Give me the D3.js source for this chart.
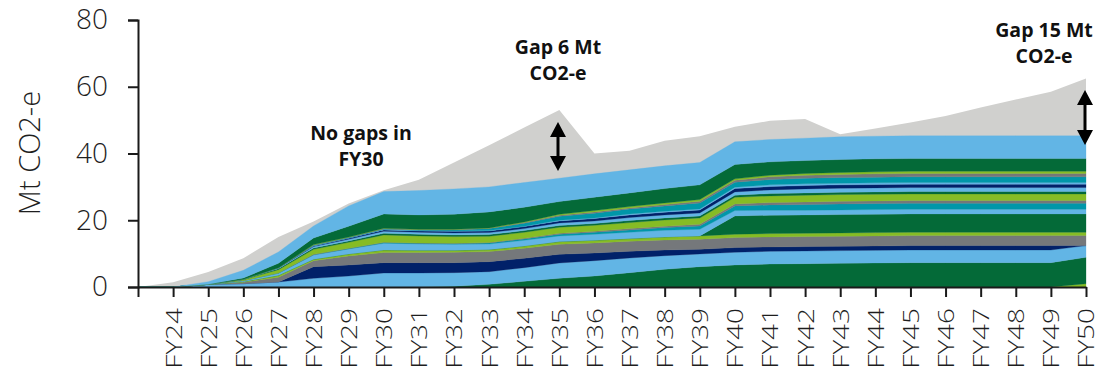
<!DOCTYPE html>
<html>
<head>
<meta charset="utf-8">
<script src="https://cdn.jsdelivr.net/npm/d3@7"></script>
<style>
  html, body { margin: 0; padding: 0; background: #fff; }
  svg { display: block; }
</style>
</head>
<body>
<svg id="chart" width="1119" height="374"></svg>
<script>
// ---------- DATA ----------
const categories = ["", "FY24", "FY25", "FY26", "FY27", "FY28", "FY29", "FY30", "FY31", "FY32", "FY33", "FY34", "FY35", "FY36", "FY37", "FY38", "FY39", "FY40", "FY41", "FY42", "FY43", "FY44", "FY45", "FY46", "FY47", "FY48", "FY49", "FY50"];
const yTicks = [0, 20, 40, 60, 80];

// Total requirement (grey area behind)
const demand = [0, 1.4, 4.5, 8.6, 15.0, 19.6, 25.0, 29.0, 32.1, 37.3, 42.5, 47.8, 53.0, 40.0, 40.8, 43.8, 45.2, 48.0, 49.8, 50.3, 45.8, 47.5, 49.3, 51.2, 53.8, 56.2, 58.5, 62.5];

// Stacked supply series, bottom to top
const lgBase = [0,0,0,0,0,0,0,0,0,0,0,0,0,0,0,0,0,0,0,0,0,0,0,0,0,0,0,1.0];
const dg1 = [0,0,0,0,0,0,0,0,0,0.2,0.8,1.7,2.6,3.3,4.3,5.3,6.1,6.6,6.9,7.0,7.1,7.2,7.3,7.3,7.3,7.3,7.3,7.9];
const lb1 = [0,0,0.8,1.0,1.5,2.6,3.3,4.2,4.2,4.1,3.8,4.1,4.6,4.6,4.4,4.1,3.8,3.8,3.8,3.8,3.8,3.8,3.8,3.8,3.8,3.8,3.8,3.5];
const nv1 = [0,0,0,0,0,3.5,3.3,3.1,3.1,3.0,3.0,2.8,2.6,2.3,2.0,1.7,1.4,1.4,1.3,1.3,1.3,1.3,1.3,1.3,1.3,1.3,1.3,0];
const gy1 = [0,0,0,0.4,1.4,1.8,2.7,3.0,3.0,3.1,3.0,3.0,3.0,3.0,3.0,3.0,3.0,3.0,3.0,3.0,3.0,3.0,3.0,3.0,3.0,3.0,3.0,3.0];
const lg1 = [0,0,0,0.2,0.6,0.4,0.6,0.8,0.7,0.6,0.6,0.7,0.8,0.8,0.8,0.9,1.0,1.0,1.0,1.0,1.0,1.0,1.0,1.0,1.0,1.0,1.0,1.0];
const dg2 = [0,0,0,0,0,0,0,0,0,0,0,0,0,0,0,0,0,5.5,5.5,5.5,5.5,5.5,5.5,5.5,5.5,5.5,5.5,5.5];
const lb2 = [0,0,0,0.3,0.6,1.3,1.5,2.0,1.9,1.8,1.7,1.7,1.7,1.8,1.9,2.0,2.0,1.6,1.5,1.4,1.4,1.4,1.4,1.4,1.4,1.4,1.4,1.4];
const tl1 = [0,0,0,0,0.1,0.1,0.1,0.2,0.2,0.2,0.3,0.4,0.5,0.6,0.7,0.8,1.0,1.4,1.6,1.7,1.8,1.8,1.8,1.8,1.8,1.8,1.8,1.8];
const gy2 = [0,0,0,0,0,0.1,0.1,0.1,0.1,0.1,0.1,0.2,0.3,0.3,0.4,0.4,0.5,0.6,0.7,0.8,0.8,0.8,0.8,0.8,0.8,0.8,0.8,0.8];
const lg2 = [0,0,0,0.3,1.0,1.5,1.8,2.2,2.1,2.0,1.9,1.8,1.8,1.8,1.8,1.9,1.9,2.0,2.0,2.0,2.0,2.0,2.0,2.0,2.0,2.0,2.0,2.0];
const dg3 = [0,0,0,0.1,0.3,0.4,0.4,0.5,0.5,0.5,0.5,0.5,0.5,0.5,0.6,0.6,0.6,0.6,0.7,0.7,0.7,0.7,0.7,0.7,0.7,0.7,0.7,0.7];
const lb3 = [0,0,0,0,0.2,0.4,0.5,0.6,0.6,0.6,0.6,0.6,0.8,0.8,0.9,0.9,0.9,1.0,1.1,1.2,1.2,1.2,1.2,1.2,1.2,1.2,1.2,1.2];
const nv2 = [0,0,0,0,0.1,0.2,0.3,0.4,0.4,0.5,0.5,0.6,0.6,0.7,0.8,0.8,0.9,1.0,1.0,1.0,1.0,1.0,1.0,1.0,1.0,1.0,1.0,1.0];
const lb4 = [0,0,0,0,0,0.1,0.1,0.1,0.1,0.1,0.1,0.1,0.2,0.2,0.3,0.3,0.3,0.4,0.5,0.5,0.5,0.5,0.5,0.5,0.5,0.5,0.5,0.5];
const tl2 = [0,0,0,0,0,0.1,0.1,0.2,0.2,0.3,0.6,0.9,1.2,1.4,1.5,1.6,1.8,1.5,1.6,1.7,1.7,1.7,1.7,1.7,1.7,1.7,1.7,1.7];
const gy3 = [0,0,0,0,0,0.1,0.1,0.1,0.1,0.1,0.1,0.2,0.3,0.4,0.3,0.4,0.5,0.6,0.8,0.9,0.9,1.0,1.0,1.0,1.0,1.0,1.0,1.0];
const lg3 = [0,0,0,0,0,0.1,0.1,0.1,0.1,0.1,0.1,0.2,0.3,0.4,0.4,0.5,0.5,0.4,0.5,0.5,0.6,0.6,0.7,0.7,0.7,0.7,0.7,0.7];
const dg4 = [0,0,0,0.4,1.3,2.0,3.2,4.3,4.3,4.5,4.8,4.4,3.8,4.0,4.1,4.3,4.4,4.3,4.0,3.9,3.9,3.9,3.8,3.8,3.8,3.8,3.8,3.8];
const lb5 = [0,0,0.8,2.3,3.4,3.6,6.1,6.7,7.3,7.6,7.5,7.4,7.0,7.0,6.9,6.8,6.7,6.8,6.7,6.7,6.8,6.8,6.8,6.8,6.8,6.8,6.8,6.8];

// ---------- STYLE ----------
const C = { dg: "#046A38", lb: "#62B5E5", nv: "#012169", gy: "#75787B", lg: "#86BC25", tl: "#0097A9", demand: "#D0D0CE" };
const seriesDefs = [
  ["lgBase", lgBase, C.lg], ["dg1", dg1, C.dg], ["lb1", lb1, C.lb], ["nv1", nv1, C.nv],
  ["gy1", gy1, C.gy], ["lg1", lg1, C.lg], ["dg2", dg2, C.dg], ["lb2", lb2, C.lb],
  ["tl1", tl1, C.tl], ["gy2", gy2, C.gy], ["lg2", lg2, C.lg], ["dg3", dg3, C.dg],
  ["lb3", lb3, C.lb], ["nv2", nv2, C.nv], ["lb4", lb4, C.lb], ["tl2", tl2, C.tl],
  ["gy3", gy3, C.gy], ["lg3", lg3, C.lg], ["dg4", dg4, C.dg], ["lb5", lb5, C.lb]
];
const colorOf = Object.fromEntries(seriesDefs.map(d => [d[0], d[2]]));

const table = categories.map((cat, i) => {
  const row = { cat, demand: demand[i] };
  seriesDefs.forEach(([k, arr]) => row[k] = arr[i]);
  return row;
});

const svg = d3.select("#chart");
const x = d3.scalePoint().domain(categories).range([138, 1086]);
const y = d3.scaleLinear().domain([0, 80]).range([287, 20]);

const FONT = "'Open Sans', 'Segoe UI', sans-serif";
const TXT = "#1e1e1e";

// demand (grey) area
svg.append("path")
  .datum(table)
  .attr("fill", C.demand)
  .attr("d", d3.area().x(d => x(d.cat)).y0(y(0)).y1(d => y(d.demand)));

// stacked supply areas
const stack = d3.stack().keys(seriesDefs.map(d => d[0]));
const layers = stack(table);
const area = d3.area().x(d => x(d.data.cat)).y0(d => y(d[0])).y1(d => y(d[1]));
svg.append("g").selectAll("path").data(layers).join("path")
  .attr("fill", d => colorOf[d.key])
  .attr("stroke", d => colorOf[d.key])
  .attr("stroke-width", 0.3)
  .attr("d", area);

// Y axis
const yAxis = svg.append("g").attr("transform", "translate(138,0)")
  .call(d3.axisLeft(y).tickValues(yTicks).tickSize(10).tickPadding(20));
yAxis.select(".domain").attr("stroke", "#1a1a1a").attr("stroke-width", 2);
yAxis.selectAll(".tick line").attr("stroke", "#1a1a1a").attr("stroke-width", 2);
yAxis.selectAll(".tick text").attr("font-family", FONT).attr("font-weight", 300)
  .attr("font-size", 28).attr("fill", TXT);

// X axis
const xAxis = svg.append("g").attr("transform", "translate(0,287)")
  .call(d3.axisBottom(x).tickSize(10).tickSizeOuter(0));
xAxis.select(".domain").attr("stroke", "#1a1a1a").attr("stroke-width", 2);
xAxis.selectAll(".tick line").attr("stroke", "#1a1a1a").attr("stroke-width", 2);
xAxis.selectAll(".tick text")
  .attr("font-family", FONT).attr("font-weight", 300).attr("font-size", 22).attr("fill", TXT)
  .attr("text-anchor", "end")
  .attr("transform", "translate(0,21) rotate(-90) scale(1.27,1)")
  .attr("x", 0).attr("y", 0).attr("dy", "0.36em");

// Y title
svg.append("text")
  .attr("transform", "translate(30,153) rotate(-90)")
  .attr("text-anchor", "middle").attr("dy", "0.36em")
  .attr("font-family", FONT).attr("font-weight", 300).attr("font-size", 29).attr("fill", TXT)
  .text("Mt CO2-e");

// Annotations
function label(lines, cx, cys) {
  lines.forEach((t, i) => {
    svg.append("text").attr("x", cx).attr("y", cys[i]).attr("dy", "0.36em")
      .attr("text-anchor", "middle").attr("font-family", FONT).attr("font-weight", 700)
      .attr("font-size", 19.5).attr("fill", "#111").text(t);
  });
}
label(["No gaps in", "FY30"], 361, [133, 159]);
label(["Gap 6 Mt", "CO2-e"], 558, [47, 73]);
label(["Gap 15 Mt", "CO2-e"], 1044, [30, 56]);

function dblArrow(cx, y1, y2) {
  const g = svg.append("g");
  const hw = 8, hh = 15;
  g.append("line").attr("x1", cx).attr("x2", cx).attr("y1", y1 + hh - 2).attr("y2", y2 - hh + 2)
    .attr("stroke", "#000").attr("stroke-width", 3);
  g.append("path").attr("d", `M${cx},${y1} L${cx - hw},${y1 + hh} L${cx + hw},${y1 + hh} Z`).attr("fill", "#000");
  g.append("path").attr("d", `M${cx},${y2} L${cx - hw},${y2 - hh} L${cx + hw},${y2 - hh} Z`).attr("fill", "#000");
}
dblArrow(558, 122, 171);
dblArrow(1085, 90, 145);
</script>
</body>
</html>
